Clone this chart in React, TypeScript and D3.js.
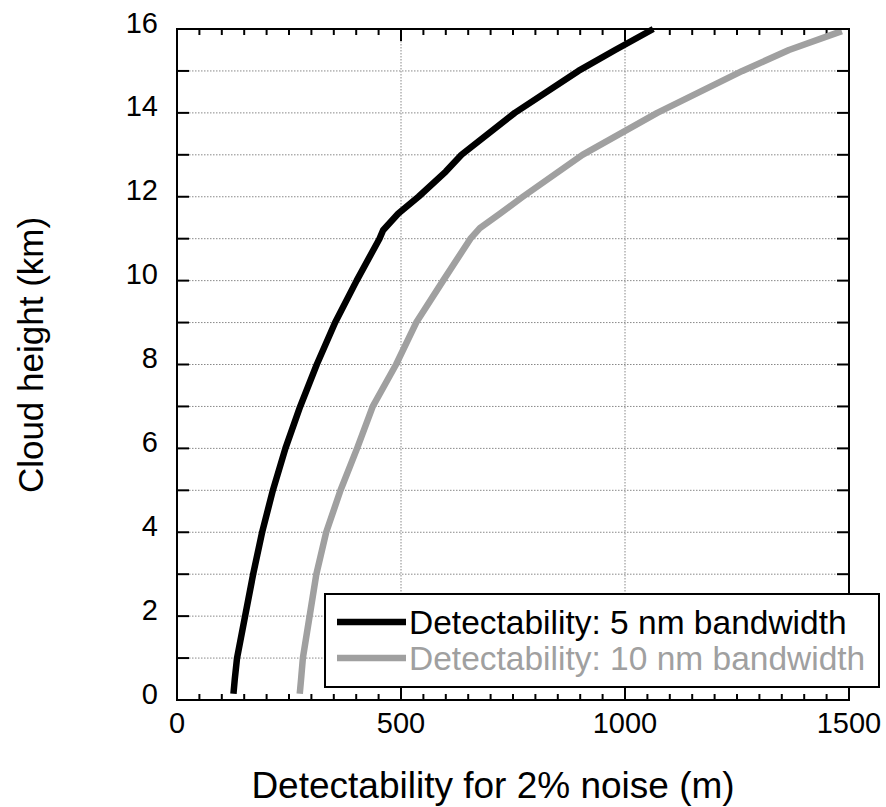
import React from 'react';
import * as d3 from 'd3';

// 5 nm bandwidth curve (cloud height km -> detectability m)
const blackKm = [0.15, 0.5, 1, 1.5, 2, 3, 4, 5, 6, 7, 8, 9, 10, 11, 11.2, 11.6, 12, 12.6, 13, 14, 15, 15.5, 16];
const blackM = [126, 129, 134, 143, 152, 170, 190, 214, 242, 275, 312, 353, 401, 452, 460, 494, 539, 600, 635, 754, 896, 978, 1063];

// 10 nm bandwidth curve
const grayKm = [0.15, 0.5, 1, 2, 3, 4, 5, 6, 7, 8, 9, 10, 11, 11.25, 11.6, 12, 13, 14, 15, 15.5, 15.95];
const grayM = [274, 277, 281, 296, 311, 333, 365, 402, 437, 489, 534, 594, 655, 676, 721, 772, 905, 1072, 1262, 1366, 1484];

const seriesNames = ['Detectability: 5 nm bandwidth', 'Detectability: 10 nm bandwidth'];
const seriesColors = ['#000000', '#a0a0a0'];

const xTickLabels = [0, 500, 1000, 1500];
const yTickLabels = [0, 2, 4, 6, 8, 10, 12, 14, 16];
const xGrid = [500, 1000];

const FONT = '"Liberation Sans", Arial, Helvetica, sans-serif';

const App = () => {
  const W = 886;
  const H = 807;
  const left = 177, right = 849, top = 29, bottom = 700;

  const x = d3.scaleLinear().domain([0, 1500]).range([left, right]);
  const y = d3.scaleLinear().domain([0, 16]).range([bottom, top]);

  const line = d3.line<[number, number]>()
    .x(d => x(d[0]))
    .y(d => y(d[1]));

  const series = [
    blackM.map((m, i) => [m, blackKm[i]] as [number, number]),
    grayM.map((m, i) => [m, grayKm[i]] as [number, number]),
  ];

  const minorX = d3.range(0, 1501, 50);
  const kmTicks = d3.range(0, 17, 1);

  return (
    <svg width={W} height={H} style={{ position: 'absolute', left: 0, top: 0, background: '#fff' }}>
      {/* grid */}
      <g stroke="#888" strokeWidth={1} strokeDasharray="1.5,1.5">
        {kmTicks.filter(k => k > 0 && k < 16).map(k => (
          <line key={'h' + k} x1={left + 12} x2={right - 12} y1={y(k)} y2={y(k)} />
        ))}
        {xGrid.map(v => (
          <line key={'v' + v} x1={x(v)} x2={x(v)} y1={top + 12} y2={bottom - 12} />
        ))}
      </g>

      {/* ticks */}
      <g stroke="#000" strokeWidth={2}>
        {kmTicks.map(k => (
          <g key={'yt' + k}>
            <line x1={left} x2={left + 12} y1={y(k)} y2={y(k)} />
            <line x1={right} x2={right - 12} y1={y(k)} y2={y(k)} />
          </g>
        ))}
        {minorX.map(v => {
          const len = v % 500 === 0 ? 12 : 6;
          return (
            <g key={'xt' + v}>
              <line x1={x(v)} x2={x(v)} y1={bottom} y2={bottom - len} />
              <line x1={x(v)} x2={x(v)} y1={top} y2={top + len} />
            </g>
          );
        })}
      </g>

      {/* curves */}
      {series.map((s, i) => (
        <path key={'s' + i} d={line(s) || ''} fill="none" stroke={seriesColors[i]}
          strokeWidth={6.5} strokeLinejoin="round" />
      ))}

      {/* frame */}
      <rect x={left} y={top} width={right - left} height={bottom - top}
        fill="none" stroke="#000" strokeWidth={2} />

      {/* tick labels */}
      <g fontFamily={FONT} fontSize={29} fill="#000">
        {xTickLabels.map(v => (
          <text key={'xl' + v} x={x(v)} y={733} textAnchor="middle">{v}</text>
        ))}
        {yTickLabels.map(k => (
          <text key={'yl' + k} x={158} y={y(k) + 3.5} textAnchor="end">{k}</text>
        ))}
      </g>

      {/* axis titles */}
      <text x={493} y={798} textAnchor="middle" fontFamily={FONT} fontSize={37}>
        Detectability for 2% noise (m)
      </text>
      <text transform="translate(43,355) rotate(-90)" textAnchor="middle" fontFamily={FONT} fontSize={35}>
        Cloud height (km)
      </text>

      {/* legend */}
      <g>
        <rect x={325} y={594} width={554} height={93} fill="#fff" stroke="#000" strokeWidth={2} />
        {seriesNames.map((name, i) => {
          const ly = 622 + i * 36;
          return (
            <g key={'lg' + i}>
              <line x1={337} x2={406} y1={ly} y2={ly} stroke={seriesColors[i]} strokeWidth={6.5} />
              <text x={409} y={ly + 11.5} fontFamily={FONT} fontSize={33.5} fill={seriesColors[i]}>{name}</text>
            </g>
          );
        })}
      </g>
    </svg>
  );
};

export default App;
